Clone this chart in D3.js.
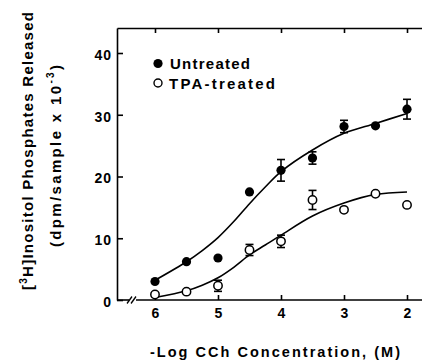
<!DOCTYPE html>
<html><head><meta charset="utf-8">
<script src="https://cdn.jsdelivr.net/npm/d3@7"></script>
<style>
html,body{margin:0;padding:0;background:#fff;}
svg text{font-family:"Liberation Sans",Arial,Helvetica,sans-serif;font-weight:bold;fill:#000;}
</style></head>
<body><svg id="c" width="422" height="360"></svg>
<script>
const conc = [6, 5.5, 5, 4.5, 4, 3.5, 3, 2.5, 2];
const untreated = [3.0, 6.2, 6.8, 17.5, 21.0, 23.0, 28.1, 28.2, 30.9];
const untreatedErr = [0, 0, 0, 0, 1.75, 1.0, 1.0, 0, 1.6];
const tpa = [0.9, 1.35, 2.3, 8.1, 9.5, 16.2, 14.6, 17.2, 15.4];
const tpaErr = [0, 0, 0.9, 0.9, 1.0, 1.55, 0, 0, 0];
const fitConc = [6, 5.5, 5.25, 5, 4.75, 4.5, 4.25, 4, 3.5, 3, 2.5, 2];
const untreatedFit = [3.2, 6.2, 8.0, 10.1, 12.7, 15.6, 18.3, 20.8, 24.3, 27.0, 28.6, 30.2];
const tpaFit = [0.4, 1.5, 2.4, 3.6, 5.3, 7.3, 8.9, 10.5, 13.6, 15.7, 17.1, 17.5];
const xTicks = [6, 5, 4, 3, 2];
const yTicks = [0, 10, 20, 30, 40];
const seriesNames = ["Untreated", "TPA-treated"];

const svg = d3.select("#c");
const x = d3.scaleLinear().domain([6.603, 1.762]).range([117, 422]);
const y = d3.scaleLinear().domain([0, 44.05]).range([300, 28]);
const lw = 1.6;
const fmt = d3.format("d");

// left axis
const ya = svg.append("g").attr("transform", "translate(117,0)")
  .call(d3.axisLeft(y).tickValues(yTicks).tickFormat(fmt).tickSizeInner(-6).tickSizeOuter(0));
ya.select(".domain").attr("stroke", "#000").attr("stroke-width", lw);
ya.selectAll(".tick line").attr("stroke", "#000").attr("stroke-width", lw);
ya.selectAll(".tick text").attr("x", -5).attr("dy", "0.45em")
  .style("font-size", "14px").style("letter-spacing", "1px").attr("text-anchor", "end");

// top axis
const ta = svg.append("g").attr("transform", "translate(0,28)")
  .call(d3.axisTop(x).tickValues(xTicks).tickSizeInner(-5).tickSizeOuter(0).tickFormat(""));
ta.select(".domain").attr("stroke", "#000").attr("stroke-width", lw);
ta.selectAll(".tick line").attr("stroke", "#000").attr("stroke-width", lw);

// bottom axis
const ba = svg.append("g").attr("transform", "translate(0,300)")
  .call(d3.axisBottom(x).tickValues(xTicks).tickFormat(fmt).tickSizeInner(-5).tickSizeOuter(0));
ba.select(".domain").remove();
ba.selectAll(".tick line").attr("stroke", "#000").attr("stroke-width", lw);
ba.selectAll(".tick text").attr("y", 18).attr("dy", 0)
  .style("font-size", "14px").attr("text-anchor", "middle");
// bottom baseline with break
svg.append("line").attr("x1", 117).attr("x2", 129).attr("y1", 300).attr("y2", 300)
  .attr("stroke", "#000").attr("stroke-width", lw);
svg.append("line").attr("x1", 136).attr("x2", 422).attr("y1", 300).attr("y2", 300)
  .attr("stroke", "#000").attr("stroke-width", lw);
[[127, 303.5, 132, 296.5], [131, 303.5, 136, 296.5]].forEach(s => {
  svg.append("line").attr("x1", s[0]).attr("y1", s[1]).attr("x2", s[2]).attr("y2", s[3])
    .attr("stroke", "#000").attr("stroke-width", 1.3);
});

// fitted curves
const line = d3.line().x(d => x(d[0])).y(d => y(d[1])).curve(d3.curveCatmullRom.alpha(0.5));
svg.append("path").datum(fitConc.map((c, i) => [c, untreatedFit[i]]))
  .attr("d", line).attr("fill", "none").attr("stroke", "#000").attr("stroke-width", lw);
svg.append("path").datum(fitConc.map((c, i) => [c, tpaFit[i]]))
  .attr("d", line).attr("fill", "none").attr("stroke", "#000").attr("stroke-width", lw);

// error bars
function errBars(vals, errs) {
  conc.forEach((c, i) => {
    if (!errs[i]) return;
    const cx = x(c), y1 = y(vals[i] + errs[i]), y2 = y(vals[i] - errs[i]);
    const g = svg.append("g").attr("stroke", "#000").attr("stroke-width", lw);
    g.append("line").attr("x1", cx).attr("x2", cx).attr("y1", y1).attr("y2", y2);
    g.append("line").attr("x1", cx - 4).attr("x2", cx + 4).attr("y1", y1).attr("y2", y1);
    g.append("line").attr("x1", cx - 4).attr("x2", cx + 4).attr("y1", y2).attr("y2", y2);
  });
}
errBars(untreated, untreatedErr);
errBars(tpa, tpaErr);

// markers
svg.selectAll(".u").data(conc).enter().append("circle")
  .attr("cx", d => x(d)).attr("cy", (d, i) => y(untreated[i])).attr("r", 4.6)
  .attr("fill", "#000");
svg.selectAll(".t").data(conc).enter().append("circle")
  .attr("cx", d => x(d)).attr("cy", (d, i) => y(tpa[i])).attr("r", 4.2)
  .attr("fill", "#fff").attr("stroke", "#000").attr("stroke-width", 1.5);

// legend
svg.append("circle").attr("cx", 158).attr("cy", 63.5).attr("r", 4.6).attr("fill", "#000");
svg.append("circle").attr("cx", 158).attr("cy", 83).attr("r", 4).attr("fill", "#fff")
  .attr("stroke", "#000").attr("stroke-width", 1.4);
svg.append("text").attr("x", 170).attr("y", 69).text(seriesNames[0])
  .style("font-size", "15px").attr("textLength", 80).attr("lengthAdjust", "spacing");
svg.append("text").attr("x", 169).attr("y", 89).text(seriesNames[1])
  .style("font-size", "15px").attr("textLength", 106).attr("lengthAdjust", "spacing");

// x title
svg.append("text").attr("x", 150).attr("y", 357).text("-Log CCh Concentration, (M)")
  .style("font-size", "14.5px").attr("textLength", 250).attr("lengthAdjust", "spacing");

// y title line 1
const t1 = svg.append("text").attr("transform", "translate(32.5,290) rotate(-90)")
  .style("font-size", "15px").attr("textLength", 278).attr("lengthAdjust", "spacing");
t1.append("tspan").text("[");
t1.append("tspan").text("3").attr("dy", -6).style("font-size", "10px");
t1.append("tspan").text("H]Inositol Phosphates Released").attr("dy", 6);
// y title line 2
const t2 = svg.append("text").attr("transform", "translate(61,247) rotate(-90)")
  .style("font-size", "15px").attr("textLength", 182).attr("lengthAdjust", "spacing");
t2.append("tspan").text("(dpm/sample x 10");
t2.append("tspan").text("-3").attr("dy", -7).style("font-size", "10px");
t2.append("tspan").text(")").attr("dy", 7);
</script></body></html>
